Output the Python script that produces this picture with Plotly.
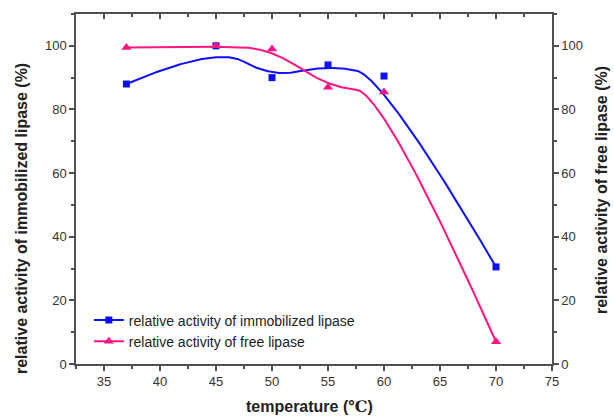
import numpy as np
import plotly.graph_objects as go

temperature = [37, 45, 50, 55, 60, 70]
immobilized = [88, 100, 90, 94, 90.5, 30.5]
free = [99.5, 100, 99, 87, 85.5, 7]
y_ticks = [0, 20, 40, 60, 80, 100]
x_ticks = [35, 40, 45, 50, 55, 60, 65, 70, 75]

BLUE = "#0f0fff"
PINK = "#ff1480"
AX = "#505050"


def bspline(xs, ys, n=400, k=2):
    """Clamped uniform B-spline using the data points as control points."""
    P = np.column_stack([xs, ys]).astype(float)
    m = len(P)
    inner = np.arange(1, m - k)
    knots = np.concatenate([np.zeros(k + 1), inner, np.full(k + 1, m - k)]).astype(float)
    ts = np.linspace(0, m - k, n)
    out = []
    for t in ts:
        N = np.zeros(len(knots) - 1)
        for i in range(len(knots) - 1):
            if knots[i] <= t < knots[i + 1]:
                N[i] = 1.0
        if t >= knots[-1]:
            N[m - 1] = 1.0
        for d in range(1, k + 1):
            Nn = np.zeros(len(knots) - 1 - d)
            for i in range(len(Nn)):
                a = 0.0
                den1 = knots[i + d] - knots[i]
                if den1 > 0:
                    a += (t - knots[i]) / den1 * N[i]
                den2 = knots[i + d + 1] - knots[i + 1]
                if den2 > 0:
                    a += (knots[i + d + 1] - t) / den2 * N[i + 1]
                Nn[i] = a
            N = Nn
        out.append(N[:m] @ P)
    out = np.array(out)
    return out[:, 0], out[:, 1]


bx, by = bspline(temperature, immobilized)
fx, fy = bspline(temperature, free)

fig = go.Figure()
fig.add_trace(go.Scatter(x=bx, y=by, mode="lines", line=dict(color=BLUE, width=2),
                         showlegend=False, hoverinfo="skip"))
fig.add_trace(go.Scatter(x=temperature, y=immobilized, mode="markers",
                         marker=dict(symbol="square", size=7, color=BLUE),
                         showlegend=False))
fig.add_trace(go.Scatter(x=fx, y=fy, mode="lines", line=dict(color=PINK, width=2),
                         showlegend=False, hoverinfo="skip", yaxis="y2"))
fig.add_trace(go.Scatter(x=temperature, y=free, mode="markers",
                         marker=dict(symbol="triangle-up", size=9, color=PINK),
                         showlegend=False, yaxis="y2"))
fig.add_trace(go.Scatter(x=[None], y=[None], mode="lines+markers",
                         line=dict(color=BLUE, width=2),
                         marker=dict(symbol="square", size=7, color=BLUE),
                         name="relative activity of immobilized lipase"))
fig.add_trace(go.Scatter(x=[None], y=[None], mode="lines+markers",
                         line=dict(color=PINK, width=2),
                         marker=dict(symbol="triangle-up", size=9, color=PINK),
                         name="relative activity of free lipase"))
fig.add_trace(go.Scatter(x=[None], y=[None], xaxis="x2", showlegend=False))

tickfont = dict(family="Liberation Sans, Arial", size=13, color="#333333")
titlefont = dict(family="Liberation Sans, Arial", size=16, color="#222222", weight="bold")
minor_out = dict(ticks="outside", ticklen=3, tickcolor=AX, tickwidth=1.5)
minor_in = dict(ticks="inside", ticklen=3, tickcolor=AX, tickwidth=1.5)
common = dict(showline=True, linecolor=AX, linewidth=1.5, showgrid=False, zeroline=False,
              tickcolor=AX, tickwidth=1.5, ticklen=5, automargin=False)

fig.update_layout(
    width=614, height=419,
    margin=dict(l=76, r=62, t=14, b=55),
    paper_bgcolor="white", plot_bgcolor="white",
    font=dict(family="Liberation Sans, Arial"),
    xaxis=dict(range=[32.5, 75], tickvals=x_ticks, ticks="outside", tickfont=tickfont,
               minor=dict(dtick=2.5, **minor_out), **common),
    xaxis2=dict(range=[32.5, 75], overlaying="x", side="top", tickvals=x_ticks,
                ticks="inside", showticklabels=False,
                minor=dict(dtick=2.5, **minor_in), **common),
    yaxis=dict(range=[0, 110], tickvals=y_ticks, ticks="outside", tickfont=tickfont,
               minor=dict(dtick=10, **minor_out), **common),
    yaxis2=dict(range=[0, 110], overlaying="y", side="right", tickvals=y_ticks,
                ticks="outside", tickfont=tickfont,
                minor=dict(dtick=10, **minor_out), **common),
    legend=dict(x=0.027, y=0.17, xanchor="left", yanchor="top",
                bgcolor="rgba(0,0,0,0)", font=dict(size=14, color="#222222"),
                tracegroupgap=0, itemwidth=30),
    annotations=[
        dict(text="temperature (<span style='font-family:DejaVu Serif'>℃</span>)",
             xref="paper", yref="paper", x=0.49, y=-0.122, yanchor="middle",
             showarrow=False, font=titlefont),
        dict(text="relative activity of immobilized lipase (%)", textangle=-90,
             xref="paper", yref="paper", x=-0.115, xanchor="center", y=0.415,
             yanchor="middle", showarrow=False, font=titlefont),
        dict(text="relative activity of free lipase (%)", textangle=-90,
             xref="paper", yref="paper", x=1.103, xanchor="center", y=0.497,
             yanchor="middle", showarrow=False, font=titlefont),
    ],
)

fig.write_html("out.html", config={"displayModeBar": False},
               post_script="document.body.style.margin='0px';")
